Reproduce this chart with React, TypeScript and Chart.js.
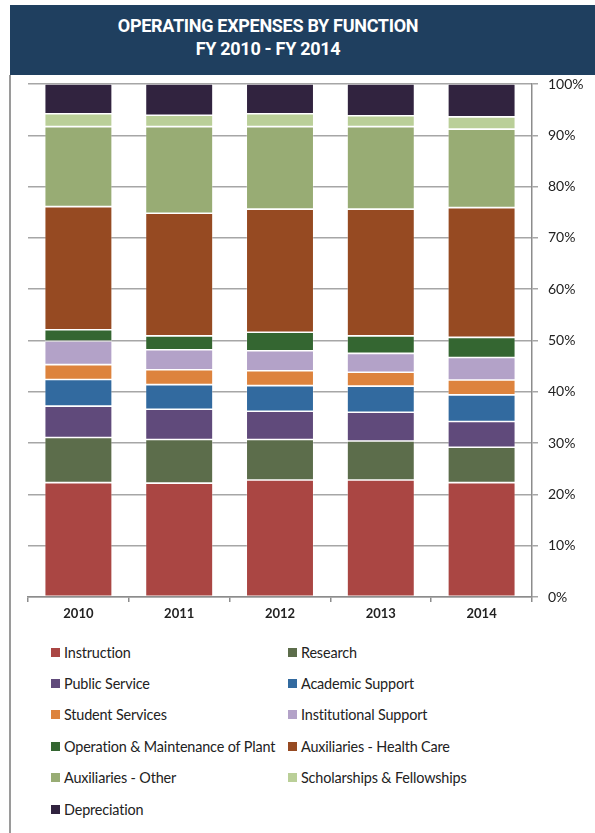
import React, { useEffect, useRef } from 'react';
import { Chart, registerables } from 'chart.js';

Chart.register(...registerables);

const years = ['2010', '2011', '2012', '2013', '2014'];

const seriesNames = [
  'Instruction',
  'Research',
  'Public Service',
  'Academic Support',
  'Student Services',
  'Institutional Support',
  'Operation & Maintenance of Plant',
  'Auxiliaries - Health Care',
  'Auxiliaries - Other',
  'Scholarships & Fellowships',
  'Depreciation',
];

const instruction = [22.3, 22.2, 22.8, 22.8, 22.3];
const research = [8.8, 8.5, 7.9, 7.6, 6.9];
const publicService = [6.1, 5.9, 5.5, 5.6, 5.0];
const academicSupport = [5.2, 4.8, 5.0, 5.1, 5.2];
const studentServices = [2.9, 2.9, 2.9, 2.7, 2.9];
const institutionalSupport = [4.6, 3.9, 3.9, 3.7, 4.4];
const operationMaintenance = [2.2, 2.7, 3.6, 3.4, 3.9];
const auxHealthCare = [24.0, 23.9, 24.0, 24.7, 25.3];
const auxOther = [15.6, 16.9, 16.1, 16.1, 15.3];
const scholarships = [2.5, 2.2, 2.5, 2.1, 2.4];
const depreciation = [5.8, 6.1, 5.8, 6.2, 6.4];

const seriesValues = [
  instruction,
  research,
  publicService,
  academicSupport,
  studentServices,
  institutionalSupport,
  operationMaintenance,
  auxHealthCare,
  auxOther,
  scholarships,
  depreciation,
];

const seriesColors = [
  '#AA4643',
  '#5C6D4B',
  '#604A7B',
  '#326A9F',
  '#DD833D',
  '#B3A2C8',
  '#346631',
  '#964A22',
  '#98AC74',
  '#BACF98',
  '#31233F',
];

const yTickValues = [0, 10, 20, 30, 40, 50, 60, 70, 80, 90, 100];

const FONT = 'Lato, "Open Sans", sans-serif';

export default function App() {
  const canvasRef = useRef<HTMLCanvasElement | null>(null);

  useEffect(() => {
    if (!canvasRef.current) return;
    const chart = new Chart(canvasRef.current, {
      type: 'bar',
      data: {
        labels: years,
        datasets: seriesNames.map((name, i) => ({
          label: name,
          data: seriesValues[i],
          backgroundColor: seriesColors[i],
          borderColor: 'rgba(255,255,255,0.35)',
          borderWidth: 0.8,
          borderSkipped: false,
          categoryPercentage: 1,
          barPercentage: 0.67,
        })),
      },
      options: {
        responsive: false,
        animation: false,
        layout: { padding: { left: 18, top: 9, right: 0, bottom: 0 } },
        plugins: {
          legend: { display: false },
          tooltip: { enabled: false },
          title: { display: false },
        },
        scales: {
          x: {
            stacked: true,
            grid: {
              display: true,
              drawOnChartArea: false,
              drawTicks: true,
              tickLength: 5,
              color: '#8c8c8c',
              lineWidth: 1.5,
              offset: true,
            },
            border: { display: true, color: '#8c8c8c', width: 1.5 },
            ticks: {
              color: '#222',
              padding: 4,
              font: { family: FONT, size: 13, weight: 'bold' },
            },
            afterFit: (scale: any) => {
              scale.height = 33;
              scale.paddingLeft = 0;
              scale.paddingRight = 0;
            },
          },
          y: {
            stacked: true,
            position: 'right',
            min: 0,
            max: 100,
            afterBuildTicks: (scale: any) => {
              scale.ticks = yTickValues.map((v) => ({ value: v }));
            },
            grid: {
              color: '#a6a6a6',
              lineWidth: 1.5,
              drawTicks: true,
              tickLength: 6,
            },
            border: { display: true, color: '#8c8c8c', width: 1.5 },
            ticks: {
              color: '#222',
              padding: 10,
              font: { family: FONT, size: 14 },
              callback: (v: any) => `${v}%`,
            },
            afterFit: (scale: any) => {
              scale.width = 63;
              scale.paddingTop = 0;
              scale.paddingBottom = 0;
            },
          },
        },
      },
    });
    return () => chart.destroy();
  }, []);

  const rows: number[][] = [];
  for (let i = 0; i < seriesNames.length; i += 2) {
    rows.push(i + 1 < seriesNames.length ? [i, i + 1] : [i]);
  }

  return (
    <div
      style={{
        position: 'absolute',
        left: 0,
        top: 0,
        width: 595,
        height: 833,
        background: '#fff',
        overflow: 'hidden',
        fontFamily: FONT,
      }}
    >
      <div
        style={{
          position: 'absolute',
          left: 10,
          top: 5,
          width: 585,
          height: 70,
          background: '#1F3F5F',
        }}
      />
      <div
        style={{
          position: 'absolute',
          left: 68,
          top: 14,
          width: 400,
          textAlign: 'center',
          color: '#fff',
          fontFamily: 'Roboto, sans-serif',
          fontWeight: 'bold',
          fontSize: 18,
          lineHeight: '23px',
          letterSpacing: '-0.3px',
        }}
      >
        <div>OPERATING EXPENSES BY FUNCTION</div>
        <div>FY 2010 - FY 2014</div>
      </div>
      <div
        style={{
          position: 'absolute',
          left: 9,
          top: 75,
          width: 1.5,
          height: 758,
          background: '#9a9a9a',
        }}
      />
      <canvas
        ref={canvasRef}
        width={585}
        height={555}
        style={{ position: 'absolute', left: 10, top: 75, width: 585, height: 555 }}
      />
      {rows.map((row, r) =>
        row.map((idx, c) => (
          <div
            key={idx}
            style={{
              position: 'absolute',
              left: c === 0 ? 51 : 288,
              top: 652 + r * 31.4 - 10,
              height: 20,
              display: 'flex',
              alignItems: 'center',
              whiteSpace: 'nowrap',
              fontSize: 14.4,
              letterSpacing: '-0.15px',
              color: '#222',
            }}
          >
            <span
              style={{
                display: 'inline-block',
                width: 9,
                height: 9,
                background: seriesColors[idx],
                marginRight: 4,
              }}
            />
            <span>{seriesNames[idx]}</span>
          </div>
        ))
      )}
    </div>
  );
}
